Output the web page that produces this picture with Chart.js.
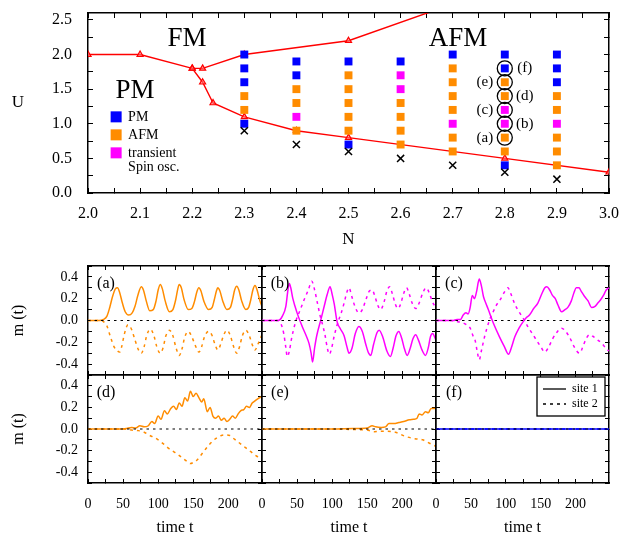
<!DOCTYPE html>
<html>
<head>
<meta charset="utf-8">
<script src="https://cdn.jsdelivr.net/npm/chart.js@4.4.0/dist/chart.umd.min.js"></script>
<style>
  html, body { margin: 0; padding: 0; background: #fff; overflow: hidden; }
  #page { position: relative; width: 631px; height: 538px; }
  #page canvas { position: absolute; }
</style>
</head>
<body>
<div id="page"></div>
<script>
// ---- phase diagram data (N, U) ----
const boundUpper = [[2.0, 2.0], [2.1, 2.0], [2.2, 1.8], [2.22, 1.8], [2.3, 2.0], [2.5, 2.2], [2.7, 2.73]];
const boundLower = [[2.2, 1.8], [2.22, 1.6], [2.24, 1.3], [2.3, 1.1], [2.4, 0.9], [2.5, 0.8], [2.8, 0.5], [3.0, 0.3]];
const pmPoints = [[2.3, 2.0], [2.3, 1.8], [2.3, 1.6], [2.3, 1.0], [2.4, 1.9], [2.4, 1.7], [2.5, 1.9], [2.5, 0.7],
  [2.6, 1.9], [2.7, 2.0], [2.8, 2.0], [2.8, 1.8], [2.8, 0.4], [2.9, 2.0], [2.9, 1.8], [2.9, 1.6]];
const afmPoints = [[2.3, 1.4], [2.3, 1.2], [2.4, 1.5], [2.4, 1.3], [2.4, 0.9], [2.5, 1.7], [2.5, 1.5], [2.5, 1.3],
  [2.5, 1.1], [2.5, 0.9], [2.6, 1.3], [2.6, 1.1], [2.6, 0.9], [2.6, 0.7], [2.7, 1.8], [2.7, 1.6], [2.7, 1.4],
  [2.7, 1.2], [2.7, 0.8], [2.7, 0.6], [2.8, 1.6], [2.8, 1.4], [2.8, 0.8], [2.8, 0.6], [2.9, 1.4], [2.9, 1.2],
  [2.9, 0.8], [2.9, 0.6], [2.9, 0.4]];
const oscPoints = [[2.4, 1.1], [2.6, 1.7], [2.6, 1.5], [2.7, 1.0], [2.8, 1.2], [2.8, 1.0], [2.9, 1.0]];
const crossPoints = [[2.3, 0.9], [2.4, 0.7], [2.5, 0.6], [2.6, 0.5], [2.7, 0.4], [2.8, 0.3], [2.9, 0.2]];
const circledN = 2.8;
const circledU = [0.8, 1.0, 1.2, 1.4, 1.6, 1.8];
const circleTags = ['(a)', '(b)', '(c)', '(d)', '(e)', '(f)'];
const legendNames = ['PM', 'AFM', 'transient', 'Spin osc.'];

// ---- m(t) curves, [time, m] ----
const aSite1 = [[0,0],[16,0],[22,0.01],[27,0.04],[31,0.12],[35,0.22],[39,0.29],[42,0.30],[45,0.26],[49,0.16],[53,0.08],[58,0.05],[63,0.07],[67,0.13],[71,0.23],[76,0.31],[79,0.28],[83,0.18],[88,0.09],[93,0.10],[97,0.18],[100,0.28],[103,0.33],[106,0.29],[110,0.18],[116,0.08],[121,0.10],[125,0.19],[128,0.29],[130,0.33],[133,0.30],[137,0.19],[143,0.10],[148,0.11],[152,0.18],[155,0.26],[158,0.30],[161,0.27],[165,0.18],[172,0.10],[177,0.12],[180,0.19],[183,0.27],[185,0.30],[188,0.27],[192,0.18],[198,0.10],[203,0.12],[206,0.19],[209,0.28],[212,0.315],[215,0.28],[219,0.18],[225,0.10],[229,0.12],[232,0.19],[235,0.28],[238,0.32],[241,0.28],[245,0.18],[248,0.13]];
const aSite2 = [[0,0],[16,0],[22,-0.01],[27,-0.05],[32,-0.15],[37,-0.24],[42,-0.28],[45,-0.29],[48,-0.24],[52,-0.12],[57,-0.04],[62,-0.08],[67,-0.18],[72,-0.27],[76,-0.30],[80,-0.24],[84,-0.13],[89,-0.08],[94,-0.14],[98,-0.24],[103,-0.30],[107,-0.25],[111,-0.14],[116,-0.09],[121,-0.14],[125,-0.24],[130,-0.32],[134,-0.26],[138,-0.15],[143,-0.10],[148,-0.15],[153,-0.23],[158,-0.29],[162,-0.24],[166,-0.15],[172,-0.10],[177,-0.14],[181,-0.22],[185,-0.27],[189,-0.22],[193,-0.14],[198,-0.09],[203,-0.14],[207,-0.23],[212,-0.30],[216,-0.24],[220,-0.14],[225,-0.09],[230,-0.14],[234,-0.22],[238,-0.27],[242,-0.22],[248,-0.13]];
const bSite1 = [[0,0],[22,0],[26,0.01],[29,0.04],[34,0.13],[37,0.28],[39,0.34],[41,0.30],[44,0.20],[50,0.07],[57,-0.05],[63,-0.14],[67,-0.21],[70,-0.30],[72,-0.38],[75,-0.25],[78,-0.14],[84,0.01],[89,0.14],[93,0.24],[97,0.31],[100,0.24],[103,0.15],[107,-0.01],[112,-0.08],[117,-0.14],[121,-0.24],[124,-0.30],[128,-0.26],[133,-0.12],[138,-0.055],[143,-0.10],[148,-0.22],[152,-0.30],[155,-0.32],[159,-0.22],[164,-0.11],[167,-0.09],[172,-0.15],[178,-0.28],[183,-0.33],[187,-0.25],[191,-0.14],[195,-0.10],[199,-0.16],[203,-0.26],[207,-0.32],[211,-0.26],[215,-0.17],[219,-0.13],[223,-0.18],[228,-0.27],[233,-0.32],[237,-0.25],[240,-0.15],[243,-0.12],[248,-0.18]];
const bSite2 = [[0,0],[22,0],[27,-0.03],[31,-0.12],[34,-0.25],[36,-0.33],[39,-0.28],[42,-0.17],[48,-0.01],[54,0.09],[60,0.19],[66,0.28],[71,0.36],[75,0.28],[79,0.16],[83,0.04],[86,-0.03],[90,-0.14],[93,-0.25],[96,-0.31],[99,-0.26],[103,-0.14],[108,-0.02],[113,0.07],[117,0.16],[121,0.26],[124,0.30],[128,0.22],[133,0.12],[138,0.07],[143,0.10],[148,0.19],[153,0.27],[157,0.28],[161,0.22],[165,0.14],[169,0.10],[174,0.17],[178,0.27],[182,0.31],[186,0.24],[190,0.15],[194,0.11],[198,0.16],[202,0.25],[206,0.30],[210,0.24],[214,0.16],[219,0.11],[224,0.16],[229,0.25],[234,0.30],[238,0.26],[243,0.17],[248,0.12]];
const cSite1 = [[0,0],[25,0],[30,0.01],[35,0.01],[39,0.05],[43,0.07],[46,0.06],[49,0.12],[52,0.23],[55,0.20],[58,0.26],[62,0.38],[65,0.32],[68,0.22],[72,0.15],[75,0.10],[82,-0.02],[91,-0.15],[98,-0.24],[104,-0.31],[108,-0.25],[113,-0.15],[119,-0.07],[125,-0.01],[130,0.03],[134,0.05],[140,0.11],[146,0.16],[152,0.25],[156,0.30],[159,0.31],[163,0.28],[167,0.23],[171,0.20],[175,0.14],[180,0.08],[185,0.10],[189,0.12],[194,0.18],[198,0.26],[201,0.30],[205,0.30],[208,0.27],[213,0.22],[218,0.18],[223,0.12],[228,0.13],[232,0.16],[236,0.19],[240,0.23],[244,0.28],[248,0.30]];
const cSite2 = [[0,0],[22,0],[30,-0.01],[38,-0.02],[44,-0.04],[49,-0.07],[53,-0.14],[56,-0.18],[59,-0.28],[62,-0.36],[65,-0.28],[70,-0.14],[77,0.01],[82,0.08],[87,0.145],[93,0.20],[98,0.26],[103,0.30],[107,0.25],[113,0.15],[119,0.08],[125,0.02],[132,-0.06],[139,-0.13],[146,-0.20],[151,-0.25],[156,-0.29],[161,-0.25],[167,-0.17],[173,-0.11],[180,-0.07],[186,-0.10],[192,-0.16],[198,-0.24],[203,-0.29],[206,-0.30],[210,-0.25],[215,-0.17],[220,-0.13],[226,-0.15],[232,-0.18],[238,-0.21],[244,-0.26],[248,-0.28]];
const dSite1 = [[0,0],[40,0],[55,0.005],[62,0.015],[68,0.01],[74,0.03],[80,0.02],[86,0.03],[91,0.07],[95,0.05],[100,0.12],[104,0.09],[109,0.17],[113,0.14],[118,0.19],[122,0.21],[126,0.18],[130,0.24],[134,0.21],[138,0.29],[142,0.26],[146,0.35],[150,0.30],[154,0.33],[158,0.29],[162,0.25],[165,0.28],[170,0.16],[174,0.20],[178,0.12],[182,0.10],[186,0.12],[190,0.08],[194,0.10],[198,0.07],[202,0.09],[206,0.12],[210,0.10],[214,0.14],[218,0.17],[222,0.18],[226,0.21],[230,0.20],[234,0.24],[238,0.26],[242,0.28],[248,0.30]];
const dSite2 = [[0,0],[50,0],[62,-0.01],[72,-0.015],[80,-0.03],[88,-0.06],[95,-0.08],[102,-0.11],[108,-0.14],[115,-0.18],[122,-0.21],[129,-0.24],[135,-0.27],[141,-0.30],[146,-0.32],[150,-0.31],[155,-0.29],[160,-0.25],[166,-0.20],[172,-0.15],[178,-0.11],[184,-0.08],[190,-0.06],[196,-0.055],[202,-0.06],[208,-0.09],[214,-0.12],[220,-0.15],[226,-0.18],[232,-0.21],[240,-0.25],[248,-0.27]];
const eSite1 = [[0,0],[100,0],[130,0.005],[150,0.01],[157,0.03],[162,0.02],[170,0.015],[176,0.02],[181,0.05],[188,0.05],[195,0.06],[202,0.07],[210,0.085],[216,0.09],[221,0.10],[224,0.14],[228,0.13],[233,0.16],[237,0.15],[241,0.19],[248,0.19]];
const eSite2 = [[0,0],[100,0],[130,-0.005],[150,-0.01],[160,-0.025],[175,-0.02],[190,-0.03],[205,-0.07],[218,-0.09],[229,-0.10],[238,-0.13],[248,-0.16]];
const fSite1 = [[0,0],[248,0]];
const fSite2 = [[0,0],[248,0]];
const zeroLine = [[0,0],[248,0]];

const BLUE = '#0000ff', ORANGE = '#ff8c00', MAGENTA = '#ff00ff', RED = '#ff0000';
const FONT = "'Liberation Serif', 'DejaVu Serif', serif";
Chart.defaults.font.family = FONT;
Chart.defaults.color = '#000';

const xy = arr => arr.map(p => ({x: p[0], y: p[1]}));

function addCanvas(left, top, w, h) {
  const c = document.createElement('canvas');
  c.width = w; c.height = h;
  c.style.left = left + 'px'; c.style.top = top + 'px';
  c.style.width = w + 'px'; c.style.height = h + 'px';
  document.getElementById('page').appendChild(c);
  return c;
}

// linear axis with inward ticks, fixed box size
function makeAxis(o) {
  return {
    type: 'linear',
    position: o.position,
    min: o.min, max: o.max,
    afterFit: function (s) {
      if (s.isHorizontal()) s.height = o.size; else s.width = o.size;
      s.paddingLeft = 0; s.paddingRight = 0; s.paddingTop = 0; s.paddingBottom = 0;
    },
    grid: {display: true, drawOnChartArea: false, drawTicks: true, tickLength: o.tickLen,
      color: '#000', tickColor: '#000', tickWidth: 1},
    border: {display: true, color: '#000', width: 1.5},
    ticks: {stepSize: o.step, includeBounds: false, autoSkip: false, maxRotation: 0, minRotation: 0,
      padding: o.pad || 0, font: {size: o.fontSize || 14}, color: '#000',
      callback: o.fmt || (() => '')},
    title: o.title || {display: false}
  };
}

// ---------- top: phase diagram ----------
const phaseNotes = {
  id: 'phaseNotes',
  afterDatasetsDraw(chart) {
    const ctx = chart.ctx, xs = chart.scales.x, ys = chart.scales.y;
    const X = v => xs.getPixelForValue(v), Y = v => ys.getPixelForValue(v);
    ctx.save();
    ctx.fillStyle = '#000';
    ctx.textAlign = 'center'; ctx.textBaseline = 'middle';
    ctx.font = '27px ' + FONT;
    ctx.fillText('FM', X(2.19), Y(2.23));
    ctx.fillText('AFM', X(2.71), Y(2.23));
    ctx.fillText('PM', X(2.09), Y(1.48));
    ctx.font = '17px ' + FONT;
    ctx.fillText('U', 18, 103);
    // legend
    const cols = [BLUE, ORANGE, MAGENTA];
    const rows = [1.10, 0.84, 0.58, 0.365];
    cols.forEach((c, i) => {
      ctx.fillStyle = c;
      ctx.fillRect(X(2.054) - 5.5, Y(rows[i]) - 5.5, 11, 11);
    });
    ctx.fillStyle = '#000';
    ctx.textAlign = 'left';
    ctx.font = '14px ' + FONT;
    legendNames.forEach((t, i) => ctx.fillText(t, X(2.077), Y(rows[i])));
    // circle tags
    ctx.font = '15px ' + FONT;
    ctx.textAlign = 'center';
    circledU.forEach((u, i) => {
      const dx = i % 2 === 0 ? -20 : 20;
      ctx.fillText(circleTags[i], X(circledN) + dx, Y(u));
    });
    ctx.restore();
  }
};

const phaseCanvas = addCanvas(0, 0, 631, 260);
new Chart(phaseCanvas, {
  type: 'scatter',
  data: {
    datasets: [
      {data: circledU.map(u => ({x: circledN, y: u})), pointStyle: 'circle', pointRadius: 7.5,
        backgroundColor: 'rgba(0,0,0,0)', borderColor: '#000', borderWidth: 1.3},
      {data: xy(crossPoints), pointStyle: 'crossRot', pointRadius: 5, borderColor: '#000', borderWidth: 1.5},
      {data: xy(pmPoints), pointStyle: 'rect', pointRadius: 5.6, backgroundColor: BLUE, borderWidth: 0},
      {data: xy(afmPoints), pointStyle: 'rect', pointRadius: 5.6, backgroundColor: ORANGE, borderWidth: 0},
      {data: xy(oscPoints), pointStyle: 'rect', pointRadius: 5.6, backgroundColor: MAGENTA, borderWidth: 0},
      {data: xy(boundUpper), showLine: true, borderColor: RED, borderWidth: 1.4, pointStyle: 'triangle',
        pointRadius: 3.5, pointBorderColor: RED, pointBackgroundColor: 'rgba(255,120,120,0.6)', pointBorderWidth: 1.2},
      {data: xy(boundLower), showLine: true, borderColor: RED, borderWidth: 1.4, pointStyle: 'triangle',
        pointRadius: 3.5, pointBorderColor: RED, pointBackgroundColor: 'rgba(255,120,120,0.6)', pointBorderWidth: 1.2}
    ]
  },
  options: {
    responsive: false, animation: false, devicePixelRatio: 1,
    layout: {padding: {top: 13, right: 22, left: 0, bottom: 0}},
    plugins: {legend: {display: false}, tooltip: {enabled: false}},
    events: [],
    scales: {
      x: makeAxis({position: 'bottom', min: 2, max: 3, step: 0.05, tickLen: -5, size: 67, pad: 16, fontSize: 16,
        fmt: v => { const k = Math.round(v * 100); return k % 10 === 0 ? (k / 100).toFixed(1) : ''; },
        title: {display: true, text: 'N', font: {size: 17}, padding: {top: 0, bottom: 10}}}),
      y: makeAxis({position: 'left', min: 0, max: 2.6, step: 0.25, tickLen: -5, size: 88, pad: 21, fontSize: 16,
        fmt: v => { const k = Math.round(v * 100); return k % 50 === 0 ? (k / 100).toFixed(1) : ''; }}),
      xTop: makeAxis({position: 'top', min: 2, max: 3, step: 0.05, tickLen: -5, size: 0}),
      yRight: makeAxis({position: 'right', min: 0, max: 2.6, step: 0.25, tickLen: -5, size: 0})
    }
  },
  plugins: [phaseNotes]
});

// ---------- bottom: m(t) panels ----------
const colLeft = [88, 262, 436];
const colWidth = [174, 174, 173];
const rowTop = [266, 375];
const rowHeight = [109, 108];

const panels = [
  {tag: '(a)', col: 0, row: 0, color: ORANGE, s1: aSite1, s2: aSite2},
  {tag: '(b)', col: 1, row: 0, color: MAGENTA, s1: bSite1, s2: bSite2},
  {tag: '(c)', col: 2, row: 0, color: MAGENTA, s1: cSite1, s2: cSite2},
  {tag: '(d)', col: 0, row: 1, color: ORANGE, s1: dSite1, s2: dSite2},
  {tag: '(e)', col: 1, row: 1, color: ORANGE, s1: eSite1, s2: eSite2},
  {tag: '(f)', col: 2, row: 1, color: BLUE, s1: fSite1, s2: fSite2, legend: true}
];

function buildPanel(p) {
  const bottomRow = p.row === 1;
  const leftCol = p.col === 0;
  const w = 88 + colWidth[p.col] + 21;
  const h = 10 + rowHeight[p.row] + (bottomRow ? 55 : 10);
  const cv = addCanvas(colLeft[p.col] - 88, rowTop[p.row] - 10, w, h);

  const notes = {
    id: 'panelNotes',
    afterDatasetsDraw(chart) {
      const ctx = chart.ctx, a = chart.chartArea;
      ctx.save();
      ctx.fillStyle = '#000';
      ctx.font = '16px ' + FONT;
      ctx.textAlign = 'center'; ctx.textBaseline = 'middle';
      ctx.fillText(p.tag, a.left + 18, a.top + 18);
      if (p.legend) {
        const bx = a.right - 72, by = a.top + 2, bw = 68, bh = 39;
        ctx.fillStyle = '#fff';
        ctx.fillRect(bx, by, bw, bh);
        ctx.strokeStyle = '#000'; ctx.lineWidth = 1.3;
        ctx.strokeRect(bx, by, bw, bh);
        ctx.beginPath(); ctx.moveTo(bx + 6, by + 12); ctx.lineTo(bx + 29, by + 12); ctx.stroke();
        ctx.setLineDash([3, 4]);
        ctx.beginPath(); ctx.moveTo(bx + 6, by + 27); ctx.lineTo(bx + 29, by + 27); ctx.stroke();
        ctx.setLineDash([]);
        ctx.fillStyle = '#000';
        ctx.font = '12px ' + FONT;
        ctx.textAlign = 'left';
        ctx.fillText('site 1', bx + 35, by + 12);
        ctx.fillText('site 2', bx + 35, by + 27);
      }
      ctx.restore();
    }
  };

  new Chart(cv, {
    type: 'scatter',
    data: {
      datasets: [
        {data: xy(zeroLine), showLine: true, borderColor: '#000', borderWidth: 1.2, borderDash: [2.5, 4], pointRadius: 0},
        {data: xy(p.s1), showLine: true, borderColor: p.color, borderWidth: 1.5, pointRadius: 0, cubicInterpolationMode: 'monotone'},
        {data: xy(p.s2), showLine: true, borderColor: p.color, borderWidth: 1.5, borderDash: [3, 4], pointRadius: 0, cubicInterpolationMode: 'monotone'}
      ]
    },
    options: {
      responsive: false, animation: false, devicePixelRatio: 1,
      layout: {padding: {top: 10, right: 21, left: 0, bottom: bottomRow ? 0 : 10}},
      plugins: {legend: {display: false}, tooltip: {enabled: false}},
      events: [],
      scales: {
        x: makeAxis({position: 'bottom', min: 0, max: 248, step: 25, tickLen: -4, size: bottomRow ? 55 : 0, pad: 17, fontSize: 14,
          fmt: bottomRow ? (v => (v % 50 === 0 ? String(v) : '')) : null,
          title: bottomRow ? {display: true, text: 'time t', font: {size: 16}, padding: {top: 0, bottom: 1}} : null}),
        y: makeAxis({position: 'left', min: -0.5, max: 0.5, step: 0.1, tickLen: -4, size: 88, pad: 14, fontSize: 14,
          fmt: leftCol ? (v => { const k = Math.round(v * 10); return (k % 2 === 0 && Math.abs(k) <= 4) ? (k / 10).toFixed(1) : ''; }) : null,
          title: leftCol ? {display: true, text: 'm (t)', font: {size: 16}, padding: {top: 9, bottom: 0}} : null}),
        xTop: makeAxis({position: 'top', min: 0, max: 248, step: 25, tickLen: -4, size: 0}),
        yRight: makeAxis({position: 'right', min: -0.5, max: 0.5, step: 0.1, tickLen: -4, size: 0})
      }
    },
    plugins: [notes]
  });
}

panels.forEach(buildPanel);
</script>
</body>
</html>
